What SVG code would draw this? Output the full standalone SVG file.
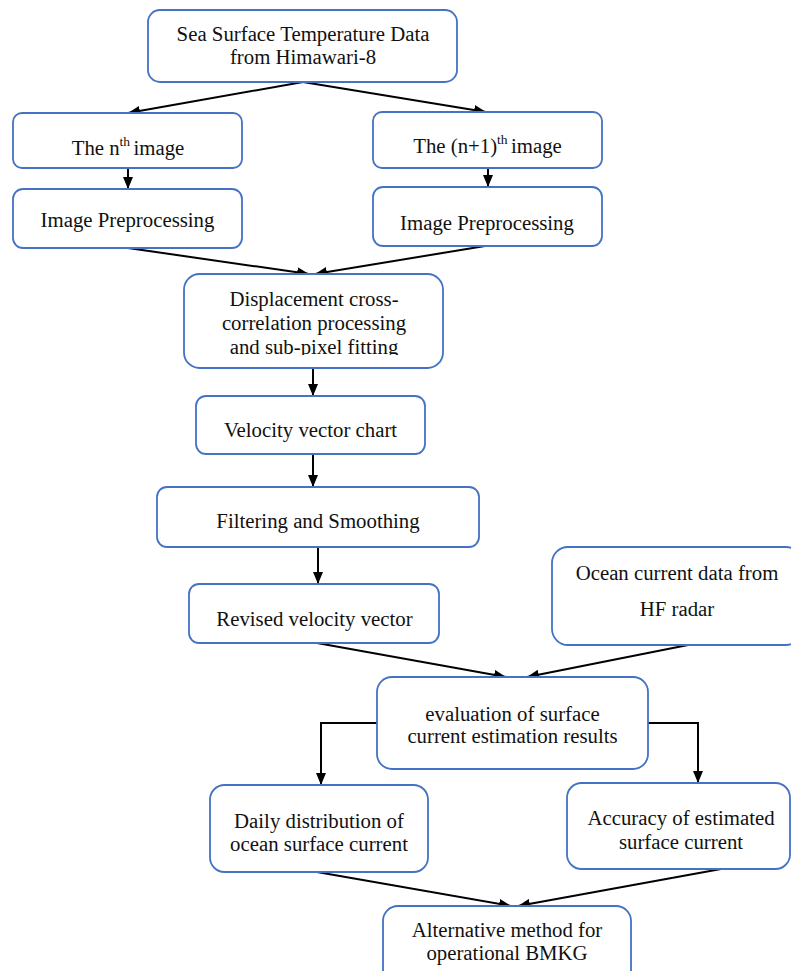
<svg xmlns="http://www.w3.org/2000/svg" width="791" height="971" viewBox="0 0 791 971">
<defs>
<style>
.box{fill:#fff;stroke:#4472C4;stroke-width:1.8}
.t{font-family:"Liberation Serif","Times New Roman",serif;font-size:20.8px;fill:#111;text-anchor:middle}
.sup{font-size:13.5px}
.c{fill:none;stroke:#000;stroke-width:2}
</style>
<marker id="ah" markerUnits="userSpaceOnUse" markerWidth="12" markerHeight="10" refX="12" refY="5" orient="auto">
<path d="M0,0 L12,5 L0,10 z" fill="#000"/>
</marker>
<clipPath id="clipDisp"><rect x="184" y="274" width="259" height="81"/></clipPath>
</defs>
<rect width="791" height="971" fill="#fff"/>
<g id="connectors">
<line class="c" x1="303" y1="82" x2="128" y2="113" marker-end="url(#ah)"/>
<line class="c" x1="303" y1="82" x2="486" y2="112" marker-end="url(#ah)"/>
<line class="c" x1="128" y1="168" x2="128" y2="189" marker-end="url(#ah)"/>
<line class="c" x1="488" y1="168" x2="488" y2="187" marker-end="url(#ah)"/>
<line class="c" x1="128" y1="248" x2="309" y2="274" marker-end="url(#ah)"/>
<line class="c" x1="485" y1="246" x2="315" y2="274" marker-end="url(#ah)"/>
<line class="c" x1="313" y1="368" x2="313" y2="396" marker-end="url(#ah)"/>
<line class="c" x1="313" y1="454" x2="313" y2="487" marker-end="url(#ah)"/>
<line class="c" x1="318" y1="547" x2="318" y2="584" marker-end="url(#ah)"/>
<line class="c" x1="317" y1="643" x2="506" y2="677" marker-end="url(#ah)"/>
<line class="c" x1="688" y1="645" x2="527" y2="677" marker-end="url(#ah)"/>
<polyline class="c" points="377,723 321,723 321,785" marker-end="url(#ah)"/>
<polyline class="c" points="648,723 698,723 698,783" marker-end="url(#ah)"/>
<line class="c" x1="317" y1="872" x2="511" y2="906" marker-end="url(#ah)"/>
<line class="c" x1="721" y1="869" x2="518" y2="906" marker-end="url(#ah)"/>
</g>
<g id="n-sst">
<rect class="box" x="148" y="10" width="309" height="72" rx="12"/>
<text class="t" x="303" y="41">Sea Surface Temperature Data</text>
<text class="t" x="303" y="64">from Himawari-8</text>
</g>
<g id="n-nth">
<rect class="box" x="13" y="113" width="229" height="55" rx="9"/>
<text class="t" x="128" y="155">The n<tspan class="sup" dy="-9">th </tspan><tspan dy="9">image</tspan></text>
</g>
<g id="n-prep1">
<rect class="box" x="13" y="189" width="229" height="59" rx="10"/>
<text class="t" x="127.5" y="227">Image Preprocessing</text>
</g>
<g id="n-n1th">
<rect class="box" x="373" y="112" width="229" height="56" rx="9"/>
<text class="t" x="487.5" y="153">The (n+1)<tspan class="sup" dy="-9">th </tspan><tspan dy="9">image</tspan></text>
</g>
<g id="n-prep2">
<rect class="box" x="373" y="187" width="229" height="59" rx="10"/>
<text class="t" x="487" y="230">Image Preprocessing</text>
</g>
<g id="n-disp">
<rect class="box" x="184" y="274" width="259" height="94" rx="15.5"/>
<g clip-path="url(#clipDisp)">
<text class="t" x="314" y="306">Displacement cross-</text>
<text class="t" x="314" y="330">correlation processing</text>
<text class="t" x="314" y="354">and sub-pixel fitting</text>
</g>
</g>
<g id="n-vel">
<rect class="box" x="196" y="396" width="229" height="58" rx="10"/>
<text class="t" x="310.5" y="437">Velocity vector chart</text>
</g>
<g id="n-filt">
<rect class="box" x="157" y="487" width="322" height="60" rx="10"/>
<text class="t" x="318" y="528">Filtering and Smoothing</text>
</g>
<g id="n-rev">
<rect class="box" x="189" y="584" width="250" height="59" rx="10"/>
<text class="t" x="314.5" y="626">Revised velocity vector</text>
</g>
<g id="n-hf">
<rect class="box" x="552" y="547" width="250" height="98" rx="16"/>
<text class="t" x="677" y="580">Ocean current data from</text>
<text class="t" x="677" y="616">HF radar</text>
</g>
<g id="n-eval">
<rect class="box" x="377" y="677" width="271" height="92" rx="15"/>
<text class="t" x="512.5" y="721">evaluation of surface</text>
<text class="t" x="512.5" y="743">current estimation results</text>
</g>
<g id="n-daily">
<rect class="box" x="210" y="785" width="218" height="87" rx="14.5"/>
<text class="t" x="319" y="828">Daily distribution of</text>
<text class="t" x="319" y="851">ocean surface current</text>
</g>
<g id="n-acc">
<rect class="box" x="567" y="783" width="223" height="86" rx="14.5"/>
<text class="t" x="681" y="825">Accuracy of estimated</text>
<text class="t" x="681" y="849">surface current</text>
</g>
<g id="n-alt">
<rect class="box" x="383" y="906" width="248" height="90" rx="15"/>
<text class="t" x="507" y="937">Alternative method for</text>
<text class="t" x="507" y="960">operational BMKG</text>
</g>
</svg>
